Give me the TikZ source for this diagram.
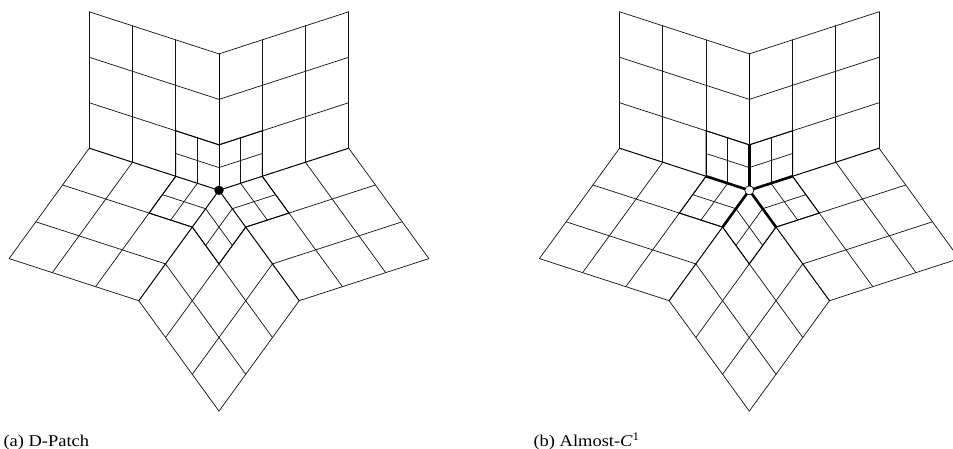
\documentclass[tikz,border=0pt]{standalone}
\usepackage{fontspec}
\setmainfont[FakeStretch=1.12]{Liberation Serif}
\tikzset{
  x=1pt,y=-1pt,
  thinline/.style={line width=0.72pt,black!92,line cap=round},
  midline/.style={line width=0.95pt,black,line cap=round},
  spokeline/.style={line width=1pt,black,line cap=round},
  boldspoke/.style={line width=2.6pt,black},
  blackdot/.style={circle,fill=black,draw=black,line width=0.3pt,minimum size=9pt,inner sep=0pt},
  whitedot/.style={circle,fill=white,draw=black,line width=0.7pt,minimum size=9pt,inner sep=0pt},
  caption/.style={anchor=base west,inner sep=0pt,font=\fontsize{16.5pt}{18pt}\selectfont}
}
% one sector: two edge vectors from the centre
\newcommand{\sectorgrid}[4]{%
  \foreach \f in {0.3333,0.6667,1}{
    \draw[thinline] ({#1*\f},{#2*\f}) -- ({#1*\f+#3},{#2*\f+#4});
    \draw[thinline] ({#3*\f},{#4*\f}) -- ({#3*\f+#1},{#4*\f+#2});
  }
  \draw[thinline] ({#1/6},{#2/6}) -- ({#1/6+#3/3},{#2/6+#4/3});
  \draw[thinline] ({#3/6},{#4/6}) -- ({#3/6+#1/3},{#4/6+#2/3});
  \draw[midline] ({#1/3},{#2/3}) -- ({#1/3+#3/3},{#2/3+#4/3}) -- ({#3/3},{#4/3});
}
\newcommand{\allsectors}{%
  \sectorgrid{-129.7}{-42.1}{0}{-136.4}
  \sectorgrid{0}{-136.4}{129.7}{-42.1}
  \sectorgrid{129.7}{-42.1}{80.2}{110.4}
  \sectorgrid{80.2}{110.4}{-80.2}{110.4}
  \sectorgrid{-80.2}{110.4}{-129.7}{-42.1}
}
\newcommand{\spokes}[1]{%
  \foreach \dx/\dy in {-129.7/-42.1,0/-136.4,129.7/-42.1,80.2/110.4,-80.2/110.4}{
    \draw[spokeline] ({\dx*#1},{\dy*#1}) -- (\dx,\dy);
  }
}
\begin{document}
\begin{tikzpicture}
\useasboundingbox (0,0) rectangle (953,449);
\begin{scope}[shift={(219,190.3)}]
  \allsectors
  \spokes{0}
  \node[blackdot] (vertexa) at (0,0) {};
\end{scope}
\begin{scope}[shift={(749.3,190.3)}]
  \allsectors
  \spokes{0.3333}
  \foreach \dx/\dy in {-129.7/-42.1,0/-136.4,129.7/-42.1,80.2/110.4,-80.2/110.4}{
    \draw[boldspoke] (0,0) -- ({\dx/3},{\dy/3});
  }
  \node[whitedot] (vertexb) at (0,0) {};
\end{scope}
\node[caption] (capa) at (3.3,446.7) {(a) D-Patch};
\node[caption] (capb) at (533.3,446.7) {(b) Almost-\textit{C}\textsuperscript{1}};
\end{tikzpicture}
\end{document}
